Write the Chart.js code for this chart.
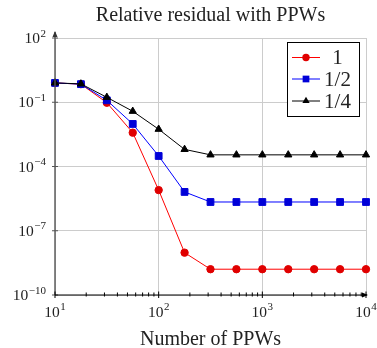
<!DOCTYPE html>
<html>
<head>
<meta charset="utf-8">
<script src="https://cdn.jsdelivr.net/npm/chart.js@4"></script>
<style>
html,body{margin:0;padding:0;background:#fff;}
#wrap{width:377px;height:348px;position:relative;}
</style>
</head>
<body>
<div id="wrap"><canvas id="c" width="377" height="348"></canvas></div>
<script>
const ppw = [10, 17.78, 31.62, 56.23, 100, 177.8, 316.2, 562.3, 1000, 1778, 3162, 5623, 10000];
const res1 = [0.8, 0.7, 0.095, 0.0038, 7.9e-6, 9.5e-9, 1.6e-9, 1.6e-9, 1.6e-9, 1.6e-9, 1.6e-9, 1.6e-9, 1.6e-9];
const resHalf = [0.8, 0.7, 0.123, 0.0097, 3.1e-4, 6.5e-6, 2.2e-6, 2.2e-6, 2.2e-6, 2.2e-6, 2.2e-6, 2.2e-6, 2.2e-6];
const resQuarter = [0.8, 0.72, 0.17, 0.038, 0.0055, 6.3e-4, 3.5e-4, 3.5e-4, 3.5e-4, 3.5e-4, 3.5e-4, 3.5e-4, 3.5e-4];
const seriesNames = ['1', '1/2', '1/4'];
const xTickExp = [1, 2, 3, 4];
const yTickExp = [-10, -7, -4, -1, 2];
const titleText = 'Relative residual with PPWs';
const xTitle = 'Number of PPWs';

const FONT = '"Liberation Serif", "DejaVu Serif", serif';

function pts(ys){ return ppw.map((x,i)=>({x:x, y:ys[i]})); }

const decor = {
  id: 'decor',
  afterDraw(chart){
    const ctx = chart.ctx;
    const xs = chart.scales.x, ys = chart.scales.y;
    const a = chart.chartArea;
    ctx.save();
    // y-axis line with arrow
    ctx.strokeStyle = '#555'; ctx.lineWidth = 1.4;
    ctx.beginPath(); ctx.moveTo(a.left, a.bottom); ctx.lineTo(a.left, a.top - 6); ctx.stroke();
    ctx.fillStyle = '#333';
    ctx.beginPath(); ctx.moveTo(a.left, a.top - 7); ctx.lineTo(a.left - 2.5, a.top - 1); ctx.lineTo(a.left + 2.5, a.top - 1); ctx.closePath(); ctx.fill();
    // y major ticks
    ctx.lineWidth = 1;
    yTickExp.forEach(e => {
      const y = ys.getPixelForValue(Math.pow(10, e));
      ctx.beginPath(); ctx.moveTo(a.left - 3, y); ctx.lineTo(a.left + 3, y); ctx.stroke();
    });
    // x-axis line with arrow
    ctx.strokeStyle = '#000'; ctx.lineWidth = 1;
    ctx.beginPath(); ctx.moveTo(a.left, a.bottom); ctx.lineTo(a.right + 1, a.bottom); ctx.stroke();
    ctx.fillStyle = '#000';
    ctx.beginPath(); ctx.moveTo(a.right + 2, a.bottom); ctx.lineTo(a.right - 4, a.bottom - 2.5); ctx.lineTo(a.right - 4, a.bottom + 2.5); ctx.closePath(); ctx.fill();
    // x ticks major + minor
    for (let e = xTickExp[0]; e <= xTickExp[xTickExp.length-1]; e++) {
      const xm = xs.getPixelForValue(Math.pow(10, e));
      ctx.beginPath(); ctx.moveTo(xm, a.bottom - 3.5); ctx.lineTo(xm, a.bottom + 3); ctx.stroke();
      if (e < xTickExp[xTickExp.length-1]) {
        for (let k = 2; k <= 9; k++) {
          const xx = xs.getPixelForValue(k * Math.pow(10, e));
          ctx.beginPath(); ctx.moveTo(xx, a.bottom - 2.5); ctx.lineTo(xx, a.bottom + 1.5); ctx.stroke();
        }
      }
    }
    // tick labels
    ctx.fillStyle = '#222';
    ctx.textBaseline = 'alphabetic';
    const baseF = '15.5px ' + FONT, supF = '11px ' + FONT;
    function measure(base, sup){
      ctx.font = baseF; const w1 = ctx.measureText(base).width;
      ctx.font = supF; const w2 = ctx.measureText(sup).width;
      return [w1, w2];
    }
    function label(xLeft, yBase, base, sup){
      ctx.font = baseF; ctx.textAlign = 'left';
      ctx.fillText(base, xLeft, yBase);
      const w1 = ctx.measureText(base).width;
      ctx.font = supF;
      ctx.fillText(sup, xLeft + w1 + 0.5, yBase - 6.5);
    }
    xTickExp.forEach(e => {
      const xm = xs.getPixelForValue(Math.pow(10, e));
      const sup = String(e);
      const [w1, w2] = measure('10', sup);
      label(xm - (w1 + w2 + 0.5)/2, 316.5, '10', sup);
    });
    yTickExp.forEach(e => {
      const y = ys.getPixelForValue(Math.pow(10, e));
      const sup = (e < 0 ? '\u2212' + (-e) : String(e));
      const [w1, w2] = measure('10', sup);
      label(a.left - 9 - w1 - w2 - 0.5, y + 5, '10', sup);
    });
    // legend
    const lx = 287.5, ly = 42.5, lw = 72, lh = 74;
    ctx.fillStyle = '#fff';
    ctx.fillRect(lx, ly, lw, lh);
    ctx.strokeStyle = '#000'; ctx.lineWidth = 1;
    ctx.strokeRect(lx, ly, lw, lh);
    const rows = [57.5, 79, 101];
    chart.data.datasets.forEach((ds, i) => {
      const yy = rows[i];
      ctx.strokeStyle = ds.borderColor; ctx.lineWidth = 1;
      ctx.beginPath(); ctx.moveTo(292, yy); ctx.lineTo(320, yy); ctx.stroke();
      ctx.fillStyle = ds.pointBackgroundColor; ctx.strokeStyle = ds.pointBorderColor;
      const r = ds.pointRadius;
      ctx.beginPath();
      if (ds.pointStyle === 'circle') { ctx.arc(306, yy, r, 0, Math.PI*2); }
      else if (ds.pointStyle === 'rect') { const s = r*0.7; ctx.rect(306 - s, yy - s, 2*s, 2*s); }
      else { ctx.moveTo(306, yy - r); ctx.lineTo(306 + r*0.87, yy + r*0.5); ctx.lineTo(306 - r*0.87, yy + r*0.5); ctx.closePath(); }
      ctx.fill();
      ctx.fillStyle = '#222';
      ctx.font = '21px ' + FONT; ctx.textAlign = 'center'; ctx.textBaseline = 'middle';
      ctx.fillText(ds.label, 337.5, yy + 1);
      ctx.textBaseline = 'alphabetic';
    });
    ctx.restore();
  }
};

new Chart(document.getElementById('c'), {
  type: 'line',
  data: {
    datasets: [
      { label: seriesNames[0], data: pts(res1), borderColor: '#ff0000', backgroundColor: '#e00000',
        pointBackgroundColor: '#e00000', pointBorderColor: '#e00000', pointStyle: 'circle', pointRadius: 3.7,
        borderWidth: 1, order: 3, clip: 10 },
      { label: seriesNames[1], data: pts(resHalf), borderColor: '#0000ff', backgroundColor: '#0000d8',
        pointBackgroundColor: '#0000d8', pointBorderColor: '#0000d8', pointStyle: 'rect', pointRadius: 4.8,
        borderWidth: 1, order: 2, clip: 10 },
      { label: seriesNames[2], data: pts(resQuarter), borderColor: '#000000', backgroundColor: '#000000',
        pointBackgroundColor: '#000000', pointBorderColor: '#000000', pointStyle: 'triangle', pointRadius: 4.2,
        borderWidth: 1, order: 1, clip: 10 }
    ]
  },
  options: {
    responsive: false,
    animation: false,
    events: [],
    layout: { padding: { left: 55, right: 11, top: 0, bottom: 0 } },
    plugins: {
      legend: { display: false },
      tooltip: { enabled: false },
      title: { display: true, text: titleText, color: '#222',
        font: { family: FONT, size: 20, weight: 'normal', lineHeight: 1.2 }, padding: { top: 4, bottom: 10 } }
    },
    scales: {
      x: {
        type: 'logarithmic', min: 10, max: 10000,
        afterBuildTicks: (s) => { s.ticks = xTickExp.map(e => ({ value: Math.pow(10, e) })); },
        ticks: { display: false },
        grid: { color: '#cccccc', lineWidth: 1, drawTicks: false },
        border: { display: false },
        title: { display: true, text: xTitle, color: '#222',
          font: { family: FONT, size: 20, weight: 'normal', lineHeight: 0.8 }, padding: { top: 37, bottom: 0 } }
      },
      y: {
        type: 'logarithmic', min: 1e-10, max: 100,
        afterBuildTicks: (s) => { s.ticks = yTickExp.map(e => ({ value: Math.pow(10, e) })); },
        ticks: { display: false },
        grid: { color: '#cccccc', lineWidth: 1, drawTicks: false },
        border: { display: false }
      }
    }
  },
  plugins: [decor]
});
</script>
</body>
</html>
